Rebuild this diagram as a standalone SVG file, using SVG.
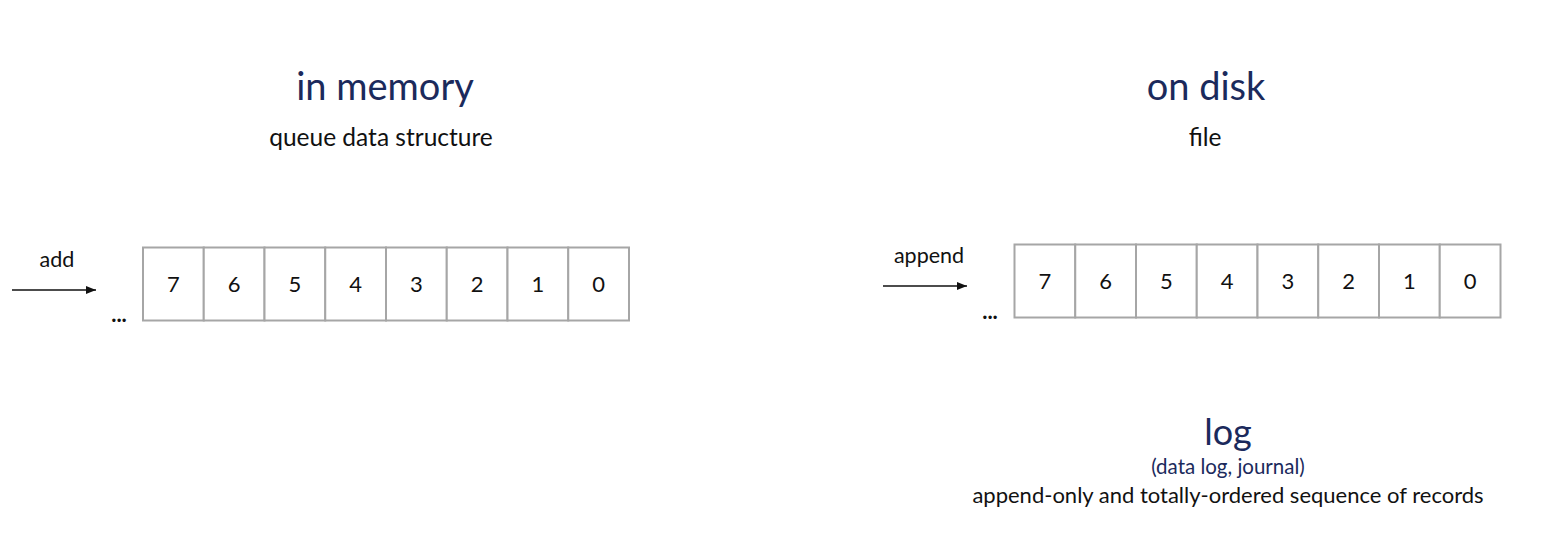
<svg xmlns="http://www.w3.org/2000/svg" width="1556" height="549" viewBox="0 0 1556 549">
<defs>
<style>
text{font-family:Lato,"Open Sans","Liberation Sans",sans-serif;text-anchor:middle}
.title{font-size:38px;fill:#1b2a5c}
.sub{font-size:24.5px;fill:#111}
.num{font-size:22px;fill:#111}
.lbl{font-size:21.5px;fill:#111}
.dots{font-size:22px;font-weight:bold;fill:#111}
.cell{fill:#fff;stroke:#a6a6a6;stroke-width:2}
.conn{stroke:#111;stroke-width:1.3;fill:none}
</style>
<marker id="ah" markerWidth="10" markerHeight="8" refX="10" refY="4" orient="auto" markerUnits="userSpaceOnUse">
<path d="M0,0 L10,4 L0,8 z" fill="#111"/>
</marker>
</defs>
<rect width="1556" height="549" fill="#fff"/>
<g id="headings">
<text class="title" x="385" y="100">in memory</text>
<text class="sub" x="381" y="146">queue data structure</text>
<text class="title" x="1206" y="100">on disk</text>
<text class="sub" x="1205" y="146">file</text>
</g>
<g id="queue">
<rect class="cell" x="143" y="247.5" width="60.75" height="73"/>
<rect class="cell" x="203.75" y="247.5" width="60.75" height="73"/>
<rect class="cell" x="264.5" y="247.5" width="60.75" height="73"/>
<rect class="cell" x="325.25" y="247.5" width="60.75" height="73"/>
<rect class="cell" x="386" y="247.5" width="60.75" height="73"/>
<rect class="cell" x="446.75" y="247.5" width="60.75" height="73"/>
<rect class="cell" x="507.5" y="247.5" width="60.75" height="73"/>
<rect class="cell" x="568.25" y="247.5" width="60.75" height="73"/>
<text class="num" x="173.4" y="292">7</text>
<text class="num" x="234.1" y="292">6</text>
<text class="num" x="294.9" y="292">5</text>
<text class="num" x="355.6" y="292">4</text>
<text class="num" x="416.4" y="292">3</text>
<text class="num" x="477.1" y="292">2</text>
<text class="num" x="537.9" y="292">1</text>
<text class="num" x="598.6" y="292">0</text>
<text class="dots" x="119" y="322">...</text>
</g>
<g id="filelog">
<rect class="cell" x="1014.5" y="244.5" width="60.75" height="73"/>
<rect class="cell" x="1075.25" y="244.5" width="60.75" height="73"/>
<rect class="cell" x="1136" y="244.5" width="60.75" height="73"/>
<rect class="cell" x="1196.75" y="244.5" width="60.75" height="73"/>
<rect class="cell" x="1257.5" y="244.5" width="60.75" height="73"/>
<rect class="cell" x="1318.25" y="244.5" width="60.75" height="73"/>
<rect class="cell" x="1379" y="244.5" width="60.75" height="73"/>
<rect class="cell" x="1439.75" y="244.5" width="60.75" height="73"/>
<text class="num" x="1044.9" y="289">7</text>
<text class="num" x="1105.6" y="289">6</text>
<text class="num" x="1166.4" y="289">5</text>
<text class="num" x="1227.1" y="289">4</text>
<text class="num" x="1287.9" y="289">3</text>
<text class="num" x="1348.6" y="289">2</text>
<text class="num" x="1409.4" y="289">1</text>
<text class="num" x="1470.1" y="289">0</text>
<text class="dots" x="990" y="319">...</text>
</g>
<g id="connectors">
<line class="conn" x1="12" y1="290" x2="96" y2="290" marker-end="url(#ah)"/>
<text class="lbl" x="57" y="267">add</text>
<line class="conn" x1="883" y1="286" x2="967" y2="286" marker-end="url(#ah)"/>
<text class="lbl" x="929" y="263">append</text>
</g>
<g id="log-caption">
<text class="title" x="1228" y="445" style="font-size:36px">log</text>
<text x="1228" y="474" style="font-size:20.5px;fill:#1b2a5c">(data log, journal)</text>
<text x="1228" y="503" style="font-size:22px;fill:#111">append-only and totally-ordered sequence of records</text>
</g>
</svg>
